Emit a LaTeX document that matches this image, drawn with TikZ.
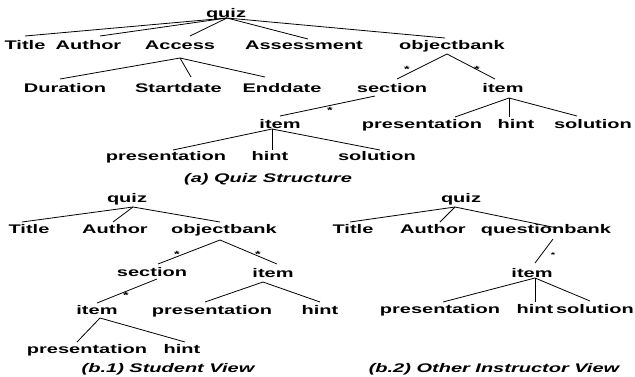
\documentclass[tikz,border=0pt]{standalone}
\usepackage{fontspec}
\setmainfont{Liberation Sans}[FakeStretch=1.6]
\tikzset{
  lbl/.style={inner sep=0pt, anchor=base, font=\fontsize{12.5}{14}\selectfont\bfseries},
  captxt/.style={inner sep=0pt, anchor=base, font=\fontsize{12.5}{14}\selectfont\bfseries\itshape},
  mult/.style={inner sep=0pt, anchor=base, font=\fontsize{9}{10}\selectfont\bfseries},
  smallmult/.style={inner sep=0pt, anchor=base, font=\fontsize{7}{8}\selectfont\bfseries},
  edge/.style={draw=black, line width=0.8pt},
}
\newcommand\conn[4]{\draw[edge] ([shift={#2}]#1.base) -- ([shift={#4}]#3.base);}
\begin{document}
\begin{tikzpicture}[x=1pt,y=-1pt]
\useasboundingbox (0,0) rectangle (635,376);
% ---------- (a) ----------
\node[lbl] (qa) at (226,17) {quiz};
\node[lbl] (tA) at (25,49) {Title};
\node[lbl] (aA) at (88.5,49) {Author};
\node[lbl] (acc) at (180,49) {Access};
\node[lbl] (ass) at (304,49) {Assessment};
\node[lbl] (ob) at (452,49) {objectbank};
\node[lbl] (dur) at (65,92) {Duration};
\node[lbl] (sd) at (178.5,92) {Startdate};
\node[lbl] (ed) at (282,92) {Enddate};
\node[lbl] (sec) at (392,92) {section};
\node[lbl] (itR) at (503,92) {item};
\node[lbl] (itL) at (280,128) {item};
\node[lbl] (prR) at (422,128) {presentation};
\node[lbl] (hiR) at (516,128) {hint};
\node[lbl] (soR) at (593,128) {solution};
\node[lbl] (prL) at (166,160) {presentation};
\node[lbl] (hiL) at (270,160) {hint};
\node[lbl] (soL) at (377,160) {solution};
\node[captxt] (capA) at (268,182) {(a) Quiz Structure};
\node[mult] (sa1) at (407,72) {*};
\node[mult] (sa2) at (477,72) {*};
\node[mult] (sa3) at (330,113) {*};
\conn{qa}{(1,1)}{tA}{(0,-13)}
\conn{qa}{(1,1)}{aA}{(11.5,-13)}
\conn{qa}{(1,1)}{acc}{(10,-13)}
\conn{qa}{(1,1)}{ass}{(4,-10)}
\conn{qa}{(1,1)}{ob}{(-7,-11)}
\conn{acc}{(0,9)}{dur}{(-5,-13)}
\conn{acc}{(0,9)}{sd}{(12.5,-15)}
\conn{acc}{(0,9)}{ed}{(-17,-15)}
\conn{ob}{(-5,5)}{sec}{(5,-13)}
\conn{ob}{(-5,5)}{itR}{(-8,-13)}
\conn{sec}{(-17,4)}{itL}{(0,-12)}
\conn{itR}{(6,6)}{prR}{(33,-11)}
\conn{itR}{(6,6)}{hiR}{(-7,-11)}
\conn{itR}{(6,6)}{soR}{(-16,-12)}
\conn{itL}{(-8,1)}{prL}{(7,-10)}
\conn{itL}{(-8,1)}{hiL}{(2,-10)}
\conn{itL}{(-8,1)}{soL}{(3,-10)}
% ---------- (b.1) ----------
\node[lbl] (qb) at (127,202) {quiz};
\node[lbl] (tB) at (29,233) {Title};
\node[lbl] (aB) at (115,233) {Author};
\node[lbl] (obB) at (224,233) {objectbank};
\node[lbl] (secB) at (152,276) {section};
\node[lbl] (itB) at (273,277) {item};
\node[lbl] (itB2) at (97,314) {item};
\node[lbl] (prB) at (212,314) {presentation};
\node[lbl] (hiB) at (320,314) {hint};
\node[lbl] (prB2) at (87,353) {presentation};
\node[lbl] (hiB2) at (182,353) {hint};
\node[captxt] (capB1) at (168,372) {(b.1) Student View};
\node[mult] (sb1) at (177,257) {*};
\node[mult] (sb2) at (258,257) {*};
\node[mult] (sb3) at (126,298) {*};
\conn{qb}{(6,5)}{tB}{(-7,-11)}
\conn{qb}{(6,5)}{aB}{(-2,-11)}
\conn{qb}{(6,5)}{obB}{(-4,-11)}
\conn{obB}{(-4,7)}{secB}{(6,-12)}
\conn{obB}{(-4,7)}{itB}{(4,-13)}
\conn{secB}{(5,3)}{itB2}{(0,-11)}
\conn{itB}{(-10,5)}{prB}{(-7,-12)}
\conn{itB}{(-10,5)}{hiB}{(0,-12)}
\conn{itB2}{(3,4)}{prB2}{(-10,-11)}
\conn{itB2}{(3,4)}{hiB2}{(3,-11)}
% ---------- (b.2) ----------
\node[lbl] (qc) at (461,202) {quiz};
\node[lbl] (tC) at (353,233) {Title};
\node[lbl] (aC) at (433,233) {Author};
\node[lbl] (qbC) at (546,233) {questionbank};
\node[lbl] (itC) at (532,277) {item};
\node[lbl] (prC) at (440,313) {presentation};
\node[lbl] (hiC) at (535,313) {hint};
\node[lbl] (soC) at (595,313) {solution};
\node[captxt] (capB2) at (494,372) {(b.2) Other Instructor View};
\node[smallmult] (sc1) at (553,257) {*};
\conn{qc}{(-6,5)}{tC}{(-3,-11)}
\conn{qc}{(-6,5)}{aC}{(7,-11)}
\conn{qc}{(-6,5)}{qbC}{(11,-5)}
\conn{qbC}{(7,6)}{itC}{(3,-14)}
\conn{itC}{(3,1)}{prC}{(3,-11)}
\conn{itC}{(3,1)}{hiC}{(0,-11)}
\conn{itC}{(3,1)}{soC}{(-5,-12)}
\end{tikzpicture}
\end{document}
